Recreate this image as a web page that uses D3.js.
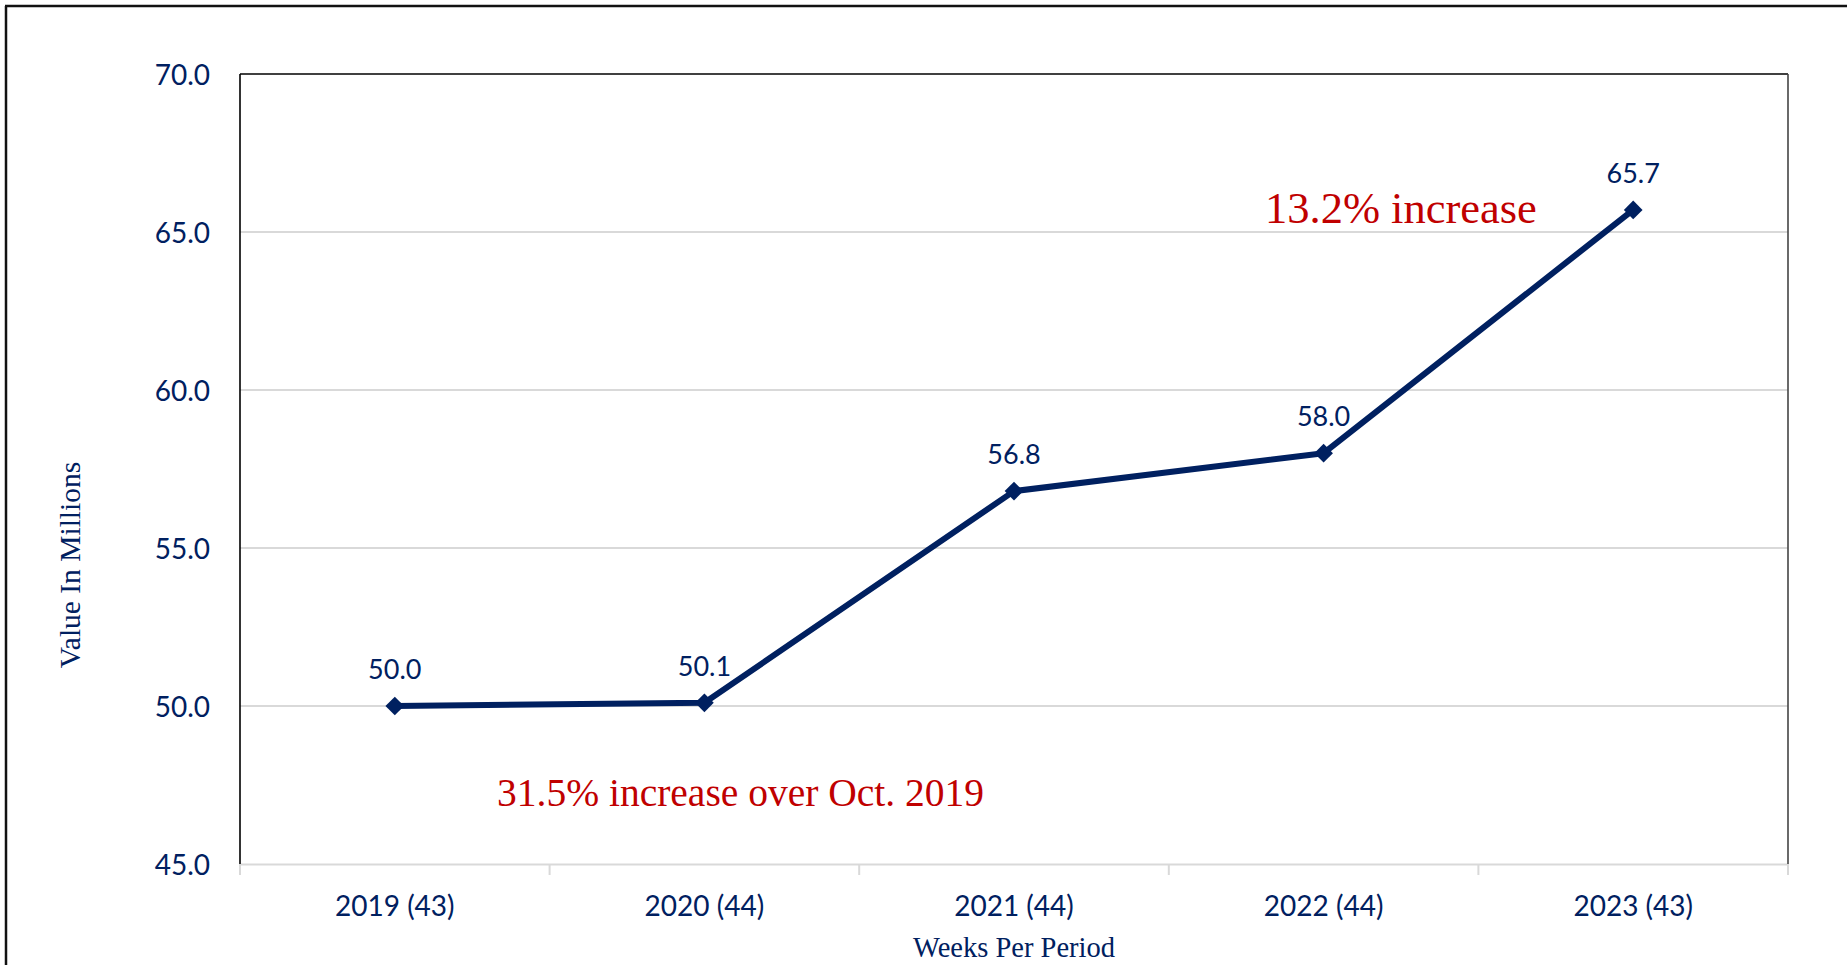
<!DOCTYPE html>
<html>
<head>
<meta charset="utf-8">
<script src="https://cdnjs.cloudflare.com/ajax/libs/d3/7.8.5/d3.min.js"></script>
<style>
  html, body { margin: 0; padding: 0; background: #fff; }
  svg { display: block; }
</style>
</head>
<body>
<svg id="chart" width="1847" height="965"></svg>
<script>
// ---- data ----
const categories = ["2019 (43)", "2020 (44)", "2021 (44)", "2022 (44)", "2023 (43)"];
const values = [50.0, 50.1, 56.8, 58.0, 65.7];
const yTicks = [45, 50, 55, 60, 65, 70];
const yTitle = "Value In Millions";
const xTitle = "Weeks Per Period";
const annotationTexts = ["13.2% increase", "31.5% increase over Oct. 2019"];

// ---- layout ----
const W = 1847, H = 965;
const plot = { left: 240, right: 1788, top: 74, bottom: 864 };
const navy = "#002060", red = "#C00000", grid = "#d9d9d9";
const sans = "Lato, 'Open Sans', sans-serif";
const serif = "'Liberation Serif', 'DejaVu Serif', serif";

const svg = d3.select("#chart");

// outer frame (left and top edges visible)
svg.append("line").attr("x1", 6).attr("x2", 6).attr("y1", 6).attr("y2", H + 5)
  .attr("stroke", "#111").attr("stroke-width", 2.5);
svg.append("line").attr("x1", 5).attr("x2", W + 5).attr("y1", 6).attr("y2", 6)
  .attr("stroke", "#111").attr("stroke-width", 2.5);

const x = d3.scaleBand().domain(categories).range([plot.left, plot.right]).padding(0);
const y = d3.scaleLinear().domain([45, 70]).range([plot.bottom, plot.top]);
const cx = d => x(d) + x.bandwidth() / 2;

// gridlines
svg.append("g").selectAll("line").data(yTicks.filter(t => t > 45 && t < 70)).join("line")
  .attr("x1", plot.left).attr("x2", plot.right)
  .attr("y1", d => y(d)).attr("y2", d => y(d))
  .attr("stroke", grid).attr("stroke-width", 2);

// bottom axis (gray) with ticks at category boundaries
const xAxis = d3.axisBottom(x).tickSize(0).tickFormat("");
const gx = svg.append("g").attr("transform", `translate(0,${plot.bottom})`).call(xAxis);
gx.select(".domain").attr("stroke", grid).attr("stroke-width", 2);
const bounds = categories.map(c => x(c)).concat([plot.right]);
gx.selectAll(".bnd").data(bounds).join("line").attr("class", "bnd")
  .attr("x1", d => d).attr("x2", d => d).attr("y1", 0).attr("y2", 11)
  .attr("stroke", grid).attr("stroke-width", 2);
gx.selectAll(".lbl").data(categories).join("text").attr("class", "lbl")
  .attr("x", d => cx(d)).attr("y", 52)
  .attr("text-anchor", "middle")
  .attr("font-family", sans).attr("font-size", 28).attr("fill", navy)
  .text(d => d);

// plot frame: left & top black, right dark gray
svg.append("line").attr("x1", plot.left).attr("x2", plot.left).attr("y1", plot.top).attr("y2", plot.bottom)
  .attr("stroke", "#000").attr("stroke-width", 1.6);
svg.append("line").attr("x1", plot.left).attr("x2", plot.right).attr("y1", plot.top).attr("y2", plot.top)
  .attr("stroke", "#000").attr("stroke-width", 1.6);
svg.append("line").attr("x1", plot.right).attr("x2", plot.right).attr("y1", plot.top).attr("y2", plot.bottom)
  .attr("stroke", "#444").attr("stroke-width", 1.6);

// y axis labels
const yAxis = d3.axisLeft(y).tickValues(yTicks).tickSize(0).tickPadding(30)
  .tickFormat(d3.format(".1f"));
const gy = svg.append("g").attr("transform", `translate(${plot.left},0)`).call(yAxis);
gy.select(".domain").remove();
gy.selectAll("text").attr("font-family", sans).attr("font-size", 28).attr("fill", navy)
  .attr("dy", "0.36em");

// line
const line = d3.line().x((d, i) => cx(categories[i])).y(d => y(d));
svg.append("path").datum(values).attr("d", line)
  .attr("fill", "none").attr("stroke", navy).attr("stroke-width", 6)
  .attr("stroke-linejoin", "round");

// markers (diamonds)
const diamond = d3.symbol().type(d3.symbolSquare).size(175);
svg.append("g").selectAll("path").data(values).join("path")
  .attr("d", diamond)
  .attr("transform", (d, i) => `translate(${cx(categories[i])},${y(d)}) rotate(45)`)
  .attr("fill", navy);

// data labels
svg.append("g").selectAll("text").data(values).join("text")
  .attr("x", (d, i) => cx(categories[i])).attr("y", d => y(d) - 27)
  .attr("text-anchor", "middle")
  .attr("font-family", sans).attr("font-size", 27).attr("fill", navy)
  .text(d => d3.format(".1f")(d));

// annotations
svg.append("text").attr("x", 1265).attr("y", 223)
  .attr("font-family", serif).attr("font-size", 44.5).attr("fill", red)
  .text(annotationTexts[0]);
svg.append("text").attr("x", 497).attr("y", 806)
  .attr("font-family", serif).attr("font-size", 39.5).attr("fill", red)
  .text(annotationTexts[1]);

// axis titles
svg.append("text")
  .attr("transform", `translate(80,565) rotate(-90)`)
  .attr("text-anchor", "middle")
  .attr("font-family", serif).attr("font-size", 29.5).attr("fill", navy)
  .text(yTitle);
svg.append("text").attr("x", (plot.left + plot.right) / 2).attr("y", 957)
  .attr("text-anchor", "middle")
  .attr("font-family", serif).attr("font-size", 28.5).attr("fill", navy)
  .text(xTitle);
</script>
</body>
</html>
